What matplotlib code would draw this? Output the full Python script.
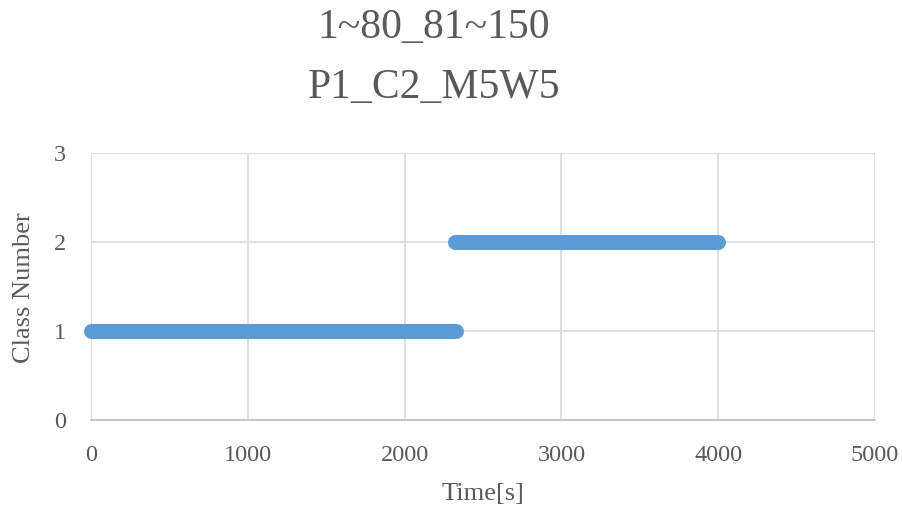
import matplotlib
matplotlib.use("Agg")
import matplotlib.pyplot as plt

# segments: class number and the time span it covers
classes = [1, 2]
seg_start = [0, 2320]
seg_end = [2330, 4000]

title_lines = ["1~80_81~150", "P1_C2_M5W5"]
x_ticks = [0, 1000, 2000, 3000, 4000, 5000]
y_ticks = [0, 1, 2, 3]

TXT = "#595959"
BLUE = "#5B9BD5"
plt.rcParams["font.family"] = ["Liberation Serif", "DejaVu Serif"]

fig = plt.figure(figsize=(9.03, 5.12), dpi=100)
ax = fig.add_axes([91 / 903, 1 - 420 / 512, 784 / 903, 267 / 512])

for c, s, e in zip(classes, seg_start, seg_end):
    ax.plot([s, e], [c, c], color=BLUE, lw=10.8, solid_capstyle="round",
            zorder=3, clip_on=False)

ax.set_xlim(0, 5000)
ax.set_ylim(0, 3)
ax.set_xticks(x_ticks)
ax.set_yticks(y_ticks)
ax.grid(True, color="#D9D9D9", lw=1.2)
ax.set_axisbelow(True)
for side in ["top", "right", "left"]:
    ax.spines[side].set_visible(False)
ax.spines["bottom"].set_color("#BFBFBF")
ax.spines["bottom"].set_linewidth(1.2)
ax.tick_params(length=0, labelsize=17.5, labelcolor=TXT)
ax.tick_params(axis="x", pad=18)
ax.tick_params(axis="y", pad=18)

fig.text(483 / 903, 1 - 494 / 512, "Time[s]", ha="center", va="center", fontsize=19, color=TXT)
fig.text(24 / 903, 1 - 288 / 512, "Class Number", ha="center", va="center", rotation=90,
         fontsize=19, color=TXT)
fig.text(434 / 903, 1 - 28 / 512, title_lines[0], ha="center", va="center", fontsize=30, color=TXT)
fig.text(434 / 903, 1 - 88 / 512, title_lines[1], ha="center", va="center", fontsize=30, color=TXT)

fig.savefig("out.png", dpi=100)
